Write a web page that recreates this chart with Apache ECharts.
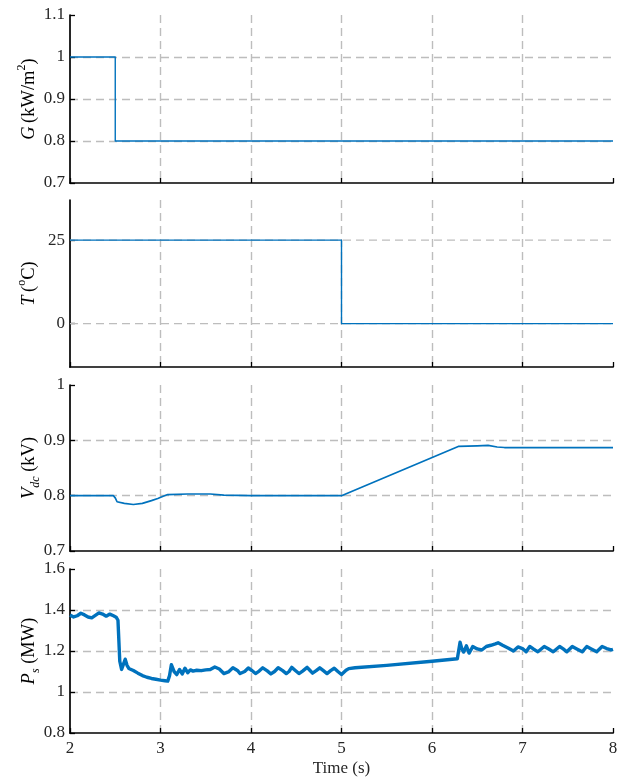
<!DOCTYPE html>
<html>
<head>
<meta charset="utf-8">
<script src="https://cdn.jsdelivr.net/npm/echarts@6/dist/echarts.min.js"></script>
<style>
  html, body { margin: 0; padding: 0; background: #fff; }
  #chart { width: 630px; height: 780px; }
</style>
</head>
<body>
<div id="chart"></div>
<script>
// Irradiance step (kW/m^2)
const gTime  = [2, 2.5, 2.5, 8];
const gValue = [1, 1, 0.8, 0.8];

// Cell temperature step (degC) and its labelled ticks
const tTime  = [2, 5, 5, 8];
const tValue = [25, 25, 0, 0];
const tTicks = [0, 25];

// DC-link voltage (kV)
const vTime  = [2.00, 2.30, 2.48, 2.50, 2.52, 2.60, 2.70, 2.80, 2.90, 2.97, 3.03, 3.08, 3.30, 3.55, 3.70, 4.00, 4.50, 5.00, 6.29, 6.50, 6.62, 6.72, 6.80, 8.00];
const vValue = [0.800, 0.800, 0.800, 0.796, 0.789, 0.786, 0.784, 0.786, 0.791, 0.795, 0.799, 0.802, 0.803, 0.803, 0.801, 0.800, 0.800, 0.800, 0.889, 0.890, 0.891, 0.888, 0.887, 0.887];

// Active power delivered (MW)
const pTime = [
  2.00, 2.04, 2.08, 2.12, 2.16, 2.20, 2.24, 2.28, 2.32, 2.36, 2.40, 2.44, 2.48, 2.51, 2.53,
  2.55, 2.57, 2.59, 2.61, 2.63, 2.65, 2.70, 2.75, 2.80, 2.85, 2.90, 2.95, 3.00, 3.05, 3.08,
  3.10, 3.12, 3.15, 3.18, 3.21, 3.24, 3.27, 3.30, 3.33, 3.36, 3.40, 3.45, 3.50, 3.55, 3.60,
  3.65, 3.70, 3.75, 3.80, 3.85, 3.88, 3.93, 3.97, 4.01, 4.05, 4.09, 4.13, 4.18, 4.22, 4.26,
  4.30, 4.35, 4.39, 4.42, 4.45, 4.49, 4.53, 4.57, 4.62, 4.65, 4.68, 4.72, 4.76, 4.80, 4.84,
  4.88, 4.92, 4.96, 5.00, 5.02, 5.05, 5.08, 5.10, 5.15, 5.50, 6.00, 6.28, 6.30, 6.31, 6.33,
  6.35, 6.38, 6.41, 6.43, 6.45, 6.50, 6.55, 6.60, 6.65, 6.70, 6.73, 6.78, 6.84, 6.90, 6.95,
  7.00, 7.04, 7.08, 7.12, 7.17, 7.24, 7.29, 7.34, 7.41, 7.45, 7.49, 7.55, 7.60, 7.66, 7.71,
  7.76, 7.82, 7.88, 7.93, 7.98, 8.00
];
const pValue = [
  1.375, 1.366, 1.372, 1.384, 1.376, 1.366, 1.362, 1.374, 1.386, 1.380, 1.370, 1.380, 1.372, 1.365, 1.350,
  1.150, 1.110, 1.135, 1.160, 1.130, 1.115, 1.105, 1.092, 1.080, 1.072, 1.066, 1.062, 1.058, 1.055, 1.053,
  1.080, 1.133, 1.100, 1.085, 1.110, 1.088, 1.116, 1.094, 1.108, 1.102, 1.106, 1.104, 1.108, 1.110, 1.122,
  1.112, 1.090, 1.098, 1.118, 1.105, 1.090, 1.100, 1.117, 1.105, 1.090, 1.102, 1.118, 1.103, 1.088, 1.100,
  1.118, 1.104, 1.090, 1.100, 1.120, 1.105, 1.090, 1.102, 1.120, 1.106, 1.092, 1.104, 1.118, 1.104, 1.090,
  1.104, 1.116, 1.100, 1.085, 1.078, 1.106, 1.114, 1.112, 1.118, 1.130, 1.150, 1.162, 1.165, 1.243, 1.210,
  1.195, 1.225, 1.190, 1.205, 1.222, 1.210, 1.205, 1.222, 1.228, 1.235, 1.240, 1.228, 1.215, 1.200, 1.220,
  1.212, 1.196, 1.222, 1.210, 1.196, 1.222, 1.210, 1.196, 1.222, 1.210, 1.196, 1.222, 1.210, 1.196, 1.222,
  1.210, 1.196, 1.222, 1.212, 1.205, 1.208
];

// Time axis ticks (s)
const timeMin = 2, timeMax = 8, timeStep = 1;

const FONT = '"Liberation Serif", "Times New Roman", serif';
const LINE = '#0072BD';
const GRID_GRAY = '#bdbdbd';
const TEXT = '#262626';

const zip = (xs, ys) => xs.map((x, i) => [x, ys[i]]);

const panels = [
  { top: 15,  height: 168, min: 0.7, max: 1.1, interval: 0.1,
    name: '{i|G} {n|(kW/m}{sup|2}{n|)}', data: zip(gTime, gValue), width: 1.4 },
  { top: 200, height: 167, min: -13, max: 37, custom: tTicks,
    name: '{i|T} {n|(}{sup|o}{n|C)}', data: zip(tTime, tValue), width: 1.4 },
  { top: 385, height: 166, min: 0.7, max: 1.0, interval: 0.1,
    name: '{i|V}{subi|dc}{n| (kV)}', data: zip(vTime, vValue), width: 1.7 },
  { top: 569, height: 164, min: 0.8, max: 1.6, interval: 0.2,
    name: '{i|P}{subi|s}{n| (MW)}', data: zip(pTime, pValue), width: 3.4 }
];

const nameRich = {
  i:    { fontFamily: FONT, fontSize: 18.5, fontStyle: 'italic', color: '#000', lineHeight: 26 },
  n:    { fontFamily: FONT, fontSize: 18.5, color: '#000', lineHeight: 26 },
  sup:  { fontFamily: FONT, fontSize: 12, color: '#000', lineHeight: 13, verticalAlign: 'top' },
  subi: { fontFamily: FONT, fontSize: 12, fontStyle: 'italic', color: '#000', lineHeight: 13, verticalAlign: 'bottom' }
};

const axisLineStyle = { color: '#000', width: 1.7 };
const splitStyle = { color: GRID_GRAY, width: 1.4, type: [8, 5] };

const grid = [], xAxis = [], yAxis = [], series = [];

panels.forEach((p, k) => {
  const last = k === panels.length - 1;
  grid.push({ left: 70, right: 17, top: p.top, height: p.height });

  xAxis.push({
    type: 'value', gridIndex: k,
    min: timeMin, max: timeMax, interval: timeStep,
    axisLine: { show: true, onZero: false, lineStyle: axisLineStyle },
    axisTick: { show: true, inside: true, length: 5, lineStyle: { color: '#000', width: 1.3 } },
    axisLabel: { show: last, fontFamily: FONT, fontSize: 17, color: TEXT, margin: 7 },
    splitLine: { show: true, showMinLine: false, showMaxLine: false, lineStyle: splitStyle },
    name: last ? 'Time (s)' : '',
    nameLocation: 'middle', nameGap: 27,
    nameTextStyle: { fontFamily: FONT, fontSize: 17, color: TEXT }
  });

  const y = {
    type: 'value', gridIndex: k,
    min: p.min, max: p.max,
    axisLine: { show: true, onZero: false, lineStyle: axisLineStyle },
    axisTick: { show: true, inside: true, length: 5, lineStyle: { color: '#000', width: 1.3 } },
    axisLabel: { fontFamily: FONT, fontSize: 17, color: TEXT, margin: 5 },
    splitLine: { show: !p.custom, showMinLine: false, showMaxLine: false, lineStyle: splitStyle },
    name: p.name,
    nameLocation: 'middle', nameRotate: 90, nameGap: 28, nameMoveOverlap: false,
    nameTextStyle: { rich: nameRich }
  };
  if (p.custom) {
    y.axisTick.customValues = p.custom;
    y.axisLabel.customValues = p.custom;
  } else {
    y.interval = p.interval;
  }
  yAxis.push(y);

  // Horizontal grid lines for the temperature axis, which uses custom ticks
  if (p.custom) {
    p.custom.forEach(v => {
      series.push({
        type: 'line', xAxisIndex: k, yAxisIndex: k,
        data: [[timeMin, v], [timeMax, v]], showSymbol: false, symbol: 'none',
        lineStyle: splitStyle, silent: true, animation: false, z: 1
      });
    });
  }

  series.push({
    type: 'line', xAxisIndex: k, yAxisIndex: k,
    data: p.data, showSymbol: false, symbol: 'none',
    lineStyle: { color: LINE, width: p.width, join: 'round' },
    animation: false, z: 5
  });
});

const chart = echarts.init(document.getElementById('chart'), null, { renderer: 'canvas' });
chart.setOption({
  backgroundColor: '#fff',
  animation: false,
  grid, xAxis, yAxis, series
});
</script>
</body>
</html>
